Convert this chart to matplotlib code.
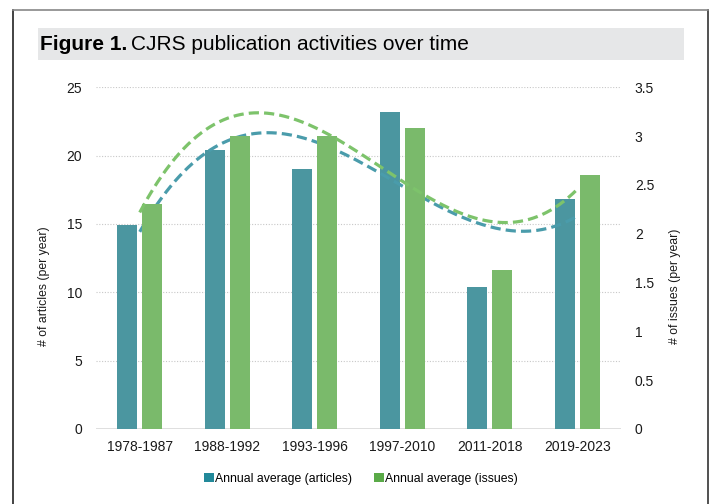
import matplotlib
matplotlib.use("Agg")
import matplotlib.pyplot as plt
import numpy as np
from matplotlib.patches import Rectangle, Patch
from matplotlib.lines import Line2D

periods = ["1978-1987", "1988-1992", "1993-1996", "1997-2010", "2011-2018", "2019-2023"]
articles = [14.9, 20.4, 19.0, 23.2, 10.4, 16.8]
issues = [2.3, 3.0, 3.0, 3.08, 1.63, 2.6]
left_ticks = [0, 5, 10, 15, 20, 25]
right_ticks = [0, 0.5, 1, 1.5, 2, 2.5, 3, 3.5]

FONT = ["Liberation Sans Narrow", "Liberation Sans", "DejaVu Sans"]
plt.rcParams["font.family"] = FONT

c_art = "#4b96a0"
c_iss = "#7aba6b"
c_art_line = "#4a9cab"
c_iss_line = "#7dc36b"

fig = plt.figure(figsize=(7.10, 5.04), dpi=100)

# frame and title band (figure coords)
W, H = 710, 504
fig.add_artist(Line2D([13 / W, 13 / W], [0, 1 - 10 / H], color="#222222", lw=1.2))
fig.add_artist(Line2D([708 / W, 708 / W], [0, 1 - 10 / H], color="#333333", lw=1.2))
fig.add_artist(Line2D([13 / W, 708 / W], [1 - 10 / H, 1 - 10 / H], color="#888888", lw=1.2))
fig.add_artist(Rectangle((38 / W, 1 - 60 / H), (684 - 38) / W, 32 / H,
                         transform=fig.transFigure, facecolor="#e6e7e8", edgecolor="none"))
t1 = fig.text(40 / W, 1 - 45 / H, "Figure 1.", fontsize=15, fontweight="bold",
              va="center", ha="left")
fig.canvas.draw()
bb = t1.get_window_extent()
fig.text(bb.x1 / W + 4 / W, 1 - 45 / H, "CJRS publication activities over time",
         fontsize=15, va="center", ha="left")

ax = fig.add_axes([96 / W, 75 / H, 525 / W, 341.7 / H])
ax2 = ax.twinx()

x = np.arange(1, len(periods) + 1)
bw = 0.225
ax.bar(x - 0.143, articles, width=bw, color=c_art, zorder=2)
ax2.bar(x + 0.143, issues, width=bw, color=c_iss, zorder=2)

# cubic trend lines like the spreadsheet trendline
xs = np.linspace(1, len(periods), 200)
pa = np.polyfit(x, articles, 3)
pi = np.polyfit(x, issues, 3)
ax.plot(xs, np.polyval(pa, xs), color=c_art_line, lw=2.3, ls=(0, (3.2, 1.6)), zorder=3)
ax2.plot(xs, np.polyval(pi, xs), color=c_iss_line, lw=2.3, ls=(0, (3.2, 1.6)), zorder=3)

ax.set_xlim(0.5, 6.5)
ax.set_ylim(0, 25)
ax2.set_ylim(0, 3.5)
ax.set_yticks(left_ticks)
ax2.set_yticks(right_ticks)
ax2.set_yticklabels(["0", "0.5", "1", "1.5", "2", "2.5", "3", "3.5"])
ax.set_xticks(x)
ax.set_xticklabels(periods)

for a in (ax, ax2):
    for s in a.spines.values():
        s.set_visible(False)
    a.tick_params(length=0, labelsize=10, colors="#1a1a1a")
ax.tick_params(axis="y", pad=10)
ax2.tick_params(axis="y", pad=10)
ax.tick_params(axis="x", pad=8)

for t in left_ticks[1:]:
    ax.axhline(t, color="#c8c8c8", lw=0.8, ls=(0, (1, 1.5)), zorder=1)
ax.axhline(0, color="#d9d9d9", lw=1.2, zorder=1)

fig.text(44 / W, 1 - 286 / H, "# of articles (per year)", rotation=90,
         fontsize=8.8, ha="center", va="center", color="#1a1a1a")
fig.text(675 / W, 1 - 286 / H, "# of issues (per year)", rotation=90,
         fontsize=8.8, ha="center", va="center", color="#1a1a1a")

handles = [Patch(facecolor="#22899a", edgecolor="none"),
           Patch(facecolor="#5aaa48", edgecolor="none")]
fig.legend(handles, ["Annual average (articles)", "Annual average (issues)"],
           loc="center", bbox_to_anchor=(361 / W, 1 - 479 / H), ncol=2, frameon=False,
           fontsize=8.8, handlelength=0.8, handleheight=0.8, handletextpad=0.1,
           columnspacing=1.8)

fig.savefig("out.png", dpi=100)
